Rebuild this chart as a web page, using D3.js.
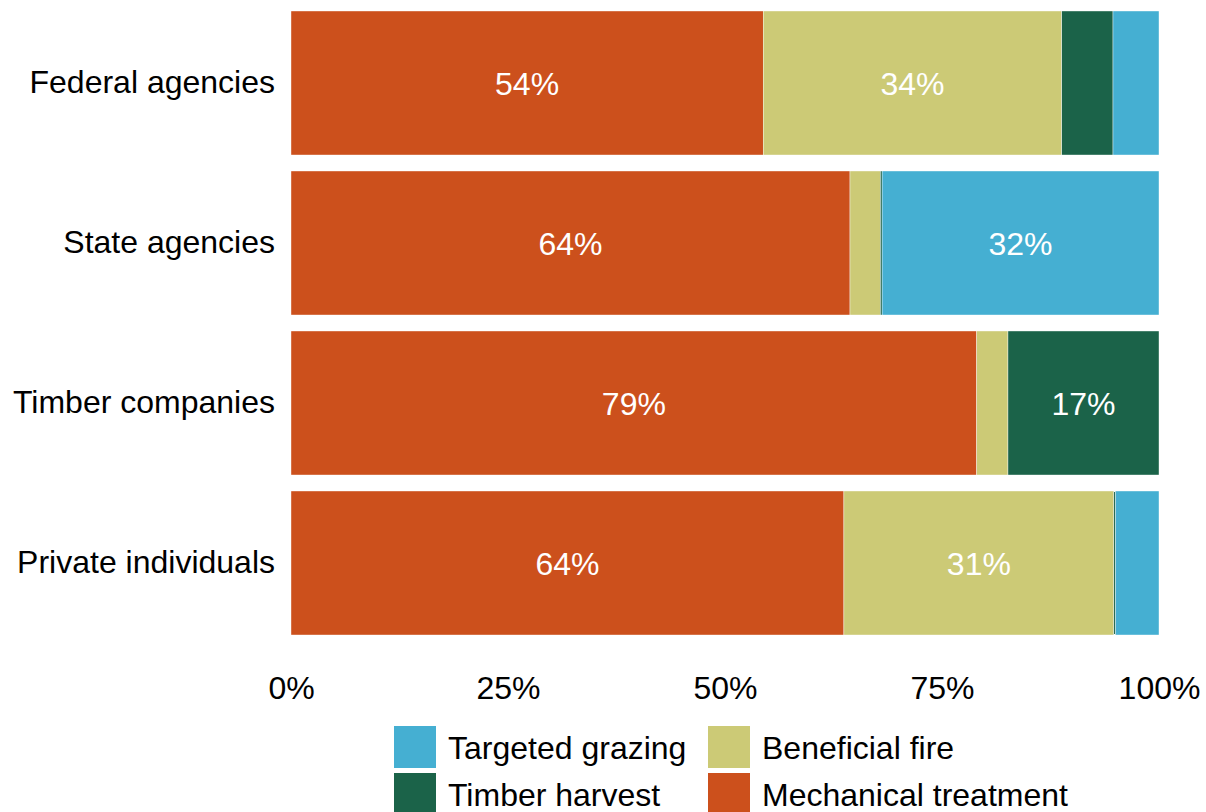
<!DOCTYPE html>
<html><head><meta charset="utf-8">
<script src="https://cdn.jsdelivr.net/npm/d3@7"></script>
<style>body{margin:0;background:#fff}svg{display:block}text{font-family:"Liberation Sans",Arial,sans-serif}</style>
</head><body><svg id="c" width="1206" height="812"></svg>
<script>
const categories = ["Federal agencies","State agencies","Timber companies","Private individuals"];
const seriesNames = ["Mechanical treatment","Beneficial fire","Timber harvest","Targeted grazing"];
const mechanical = [54.4, 64.4, 79.0, 63.7];
const fire = [34.4, 3.5, 3.6, 31.1];
const timber = [5.9, 0.2, 17.4, 0.2];
const grazing = [5.3, 31.9, 0.0, 5.0];
const tickValues = [0, 25, 50, 75, 100];
const colors = ["#CC501C","#CCCA76","#1B6349","#45AFD2"];
const legendOrder = [["Targeted grazing","Beneficial fire"],["Timber harvest","Mechanical treatment"]];

const rows = categories.map((c,i)=>({cat:c,"Mechanical treatment":mechanical[i],"Beneficial fire":fire[i],"Timber harvest":timber[i],"Targeted grazing":grazing[i]}));
const stack = d3.stack().keys(seriesNames)(rows);
const svg = d3.select("#c");
const x = d3.scaleLinear().domain([0,100]).range([291,1159]);
const y = d3.scaleBand().domain(categories).range([3,643]).paddingInner(0.1).paddingOuter(0.05);
const color = d3.scaleOrdinal().domain(seriesNames).range(colors);
const fs = 32;

const g = svg.append("g");
stack.forEach(s=>{
  g.selectAll(null).data(s).enter().append("rect")
    .attr("x",d=>x(d[0])).attr("width",d=>Math.max(0,x(d[1])-x(d[0])))
    .attr("y",d=>y(d.data.cat)).attr("height",y.bandwidth())
    .attr("fill",color(s.key)).attr("stroke","#fff").attr("stroke-width",0.4);
  g.selectAll(null).data(s.filter(d=>d[1]-d[0]>=10)).enter().append("text")
    .attr("x",d=>(x(d[0])+x(d[1]))/2).attr("y",d=>y(d.data.cat)+y.bandwidth()/2)
    .attr("dy","0.36em").attr("text-anchor","middle").attr("fill","#fff")
    .attr("font-size",fs).text(d=>Math.round(d[1]-d[0])+"%");
});

const xa = svg.append("g").attr("transform","translate(0,643)")
  .call(d3.axisBottom(x).tickValues(tickValues).tickFormat(d=>d+"%").tickSize(0).tickPadding(33));
xa.select(".domain").remove();
xa.selectAll("text").attr("font-size",fs).attr("fill","#000").style("font-family","Liberation Sans, Arial, sans-serif");

const ya = svg.append("g").attr("transform","translate(291,0)")
  .call(d3.axisLeft(y).tickSize(0).tickPadding(16));
ya.select(".domain").remove();
ya.selectAll("text").attr("font-size",fs).attr("fill","#000").style("font-family","Liberation Sans, Arial, sans-serif");

const legX = [394,708], legY = [726,773], box = 42;
legendOrder.forEach((row,ri)=>row.forEach((name,ci)=>{
  svg.append("rect").attr("x",legX[ci]).attr("y",legY[ri]).attr("width",box).attr("height",box).attr("fill",color(name));
  svg.append("text").attr("x",legX[ci]+box+12).attr("y",legY[ri]+box/2).attr("dy","0.36em")
    .attr("font-size",fs).attr("fill","#000").text(name);
}));
</script></body></html>
